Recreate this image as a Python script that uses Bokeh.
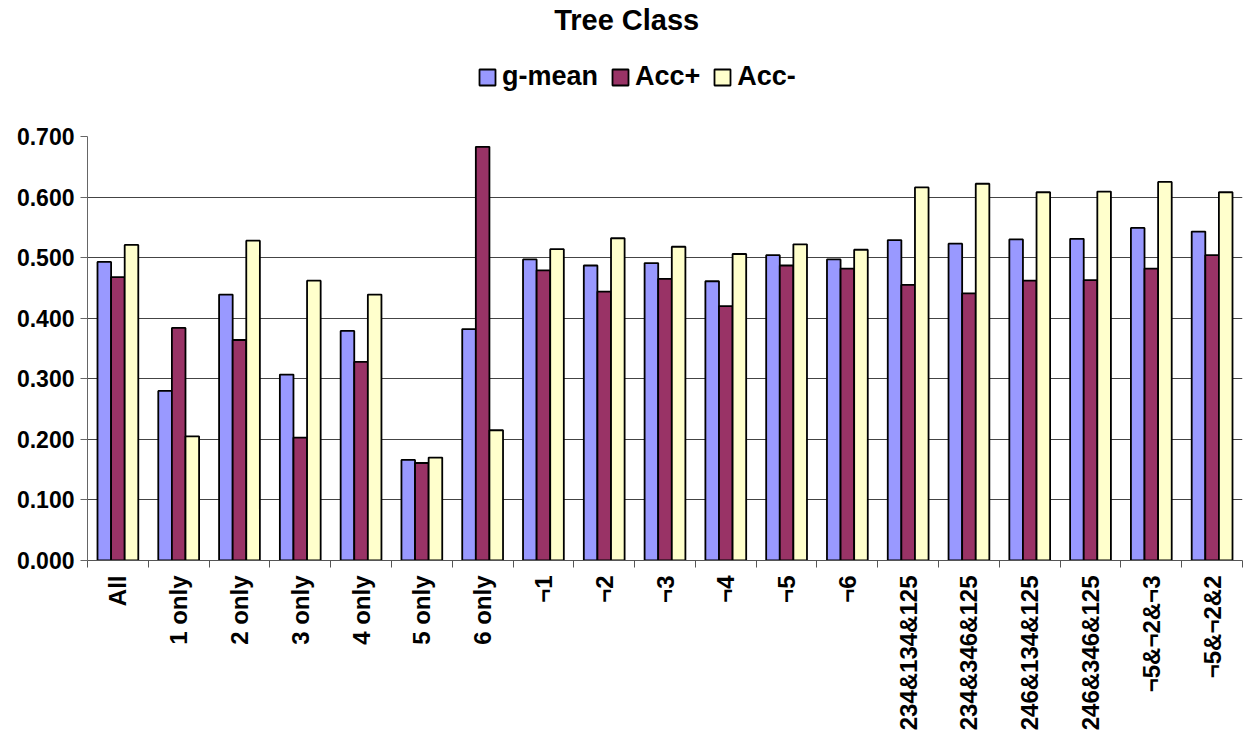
import math

from bokeh.embed import file_html
from bokeh.models import (ColumnDataSource, FixedTicker, Label, Legend,
                          LegendItem, NumeralTickFormatter, Range1d)
from bokeh.plotting import figure
from bokeh.resources import INLINE

# ---- data -------------------------------------------------------------
categories = ["All", "1 only", "2 only", "3 only", "4 only", "5 only", "6 only",
              "¬1", "¬2", "¬3", "¬4", "¬5", "¬6",
              "234&134&125", "234&346&125", "246&134&125", "246&346&125",
              "¬5&¬2&¬3", "¬5&¬2&2"]
g_mean = [0.493, 0.280, 0.439, 0.307, 0.379, 0.166, 0.382,
          0.497, 0.487, 0.491, 0.461, 0.504, 0.497,
          0.529, 0.523, 0.530, 0.531, 0.549, 0.543]
acc_pos = [0.468, 0.384, 0.364, 0.203, 0.328, 0.161, 0.683,
           0.479, 0.444, 0.465, 0.420, 0.487, 0.482,
           0.455, 0.441, 0.462, 0.463, 0.482, 0.504]
acc_neg = [0.521, 0.205, 0.528, 0.462, 0.439, 0.170, 0.215,
           0.514, 0.532, 0.518, 0.506, 0.522, 0.513,
           0.616, 0.622, 0.608, 0.609, 0.625, 0.608]
series_names = ["g-mean", "Acc+", "Acc-"]
series_colors = ["#9999FF", "#993366", "#FFFFCC"]
y_ticks = [0.0, 0.1, 0.2, 0.3, 0.4, 0.5, 0.6, 0.7]

FONT = "Liberation Sans"
n = len(categories)
centers = [i + 0.5 for i in range(n)]
boundaries = [float(i) for i in range(n + 1)]
bar_w = 0.2237

# The frame runs to the top of the canvas; the value axis stops at 0.7 and the
# space above it holds the title and the legend.
y_top = 0.7 + 136 / 605.7
p = figure(frame_width=1155, frame_height=560,
           min_border_left=87, min_border_right=8,
           min_border_top=0, min_border_bottom=182,
           x_range=Range1d(0, n), y_range=Range1d(0, y_top),
           output_backend="svg", toolbar_location=None, tools="")
p.outline_line_color = None
p.background_fill_color = "white"
p.border_fill_color = "white"

renderers = []
for k, (name, vals, color) in enumerate(zip(series_names, [g_mean, acc_pos, acc_neg], series_colors)):
    xs = [c + (k - 1) * bar_w for c in centers]
    src = ColumnDataSource(dict(x=xs, top=vals))
    r = p.vbar(x="x", top="top", width=bar_w, bottom=0, source=src,
               fill_color=color, line_color="black", line_width=1.8)
    renderers.append(r)

# y axis
p.yaxis.ticker = FixedTicker(ticks=y_ticks)
p.yaxis.bounds = (0, 0.7)
p.yaxis.formatter = NumeralTickFormatter(format="0.000")
p.yaxis.major_label_text_font = FONT
p.yaxis.major_label_text_font_size = "23px"
p.yaxis.major_label_text_font_style = "bold"
p.yaxis.major_label_text_color = "black"
p.yaxis.major_tick_in = 0
p.yaxis.major_tick_out = 7
p.yaxis.minor_tick_line_color = None
p.yaxis.axis_line_color = "#666666"
p.yaxis.major_tick_line_color = "#666666"
p.yaxis.major_label_standoff = 6

p.ygrid.ticker = FixedTicker(ticks=y_ticks[1:-1])
p.ygrid.grid_line_color = "#444444"
p.ygrid.grid_line_width = 1
p.xgrid.visible = False

# x axis: labels at category centres, ticks at the boundaries
p.xaxis.ticker = FixedTicker(ticks=centers, minor_ticks=boundaries)
p.xaxis.major_label_overrides = {c: lab for c, lab in zip(centers, categories)}
p.xaxis.major_label_orientation = math.pi / 2
p.xaxis.major_label_text_font = FONT
p.xaxis.major_label_text_font_size = "24px"
p.xaxis.major_label_text_font_style = "bold"
p.xaxis.major_label_text_color = "black"
p.xaxis.major_tick_in = 0
p.xaxis.major_tick_out = 0
p.xaxis.minor_tick_in = 0
p.xaxis.minor_tick_out = 7
p.xaxis.minor_tick_line_color = "#555555"
p.xaxis.axis_line_color = "#555555"
p.xaxis.major_label_standoff = 8

legend = Legend(items=[LegendItem(label=nm, renderers=[r]) for nm, r in zip(series_names, renderers)],
                orientation="horizontal", location=(390, 468),
                border_line_color=None, background_fill_alpha=0,
                padding=0, margin=0, spacing=12, label_standoff=5,
                glyph_width=20, glyph_height=20,
                label_text_font=FONT, label_text_font_size="27px",
                label_text_font_style="bold", label_text_color="black")
p.add_layout(legend)

title = Label(x=8.87, y=0.893, text="Tree Class", text_align="center",
              text_baseline="middle", text_font=FONT, text_font_size="29px",
              text_font_style="bold", text_color="black")
p.add_layout(title)

open("out.html", "w").write(file_html(p, INLINE))
